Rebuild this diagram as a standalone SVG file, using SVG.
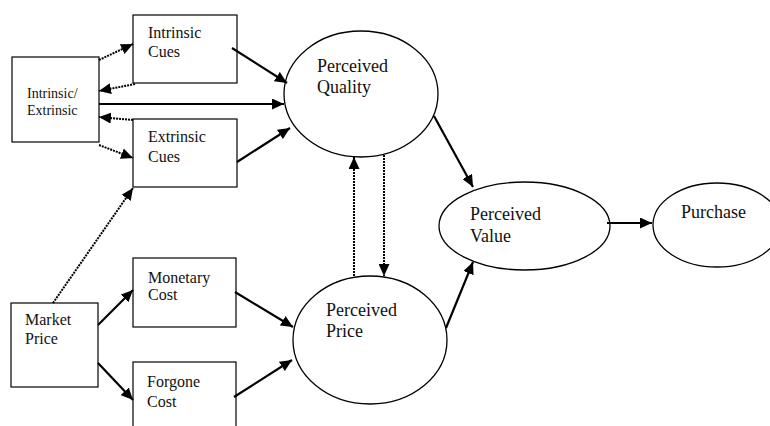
<svg xmlns="http://www.w3.org/2000/svg" width="770" height="426" viewBox="0 0 770 426">
<defs>
<marker id="ah" markerUnits="userSpaceOnUse" markerWidth="13" markerHeight="11" refX="12" refY="5.5" orient="auto">
<path d="M0,0 L12,5.5 L0,11 z" fill="#000"/>
</marker>
<style>
.box{fill:#fff;stroke:#000;stroke-width:1.2}
.ell{fill:#fff;stroke:#000;stroke-width:1.3}
.t{font-family:"Liberation Serif","Times New Roman",serif;font-size:16px;fill:#111}
.ts{font-size:14px}
.tl{font-size:18px}
.s{stroke:#000;stroke-width:2.2;fill:none;marker-end:url(#ah)}
.d{stroke:#000;stroke-width:2;stroke-dasharray:2,1;fill:none;marker-end:url(#ah)}
</style>
</defs>
<rect width="770" height="426" fill="#fff"/>
<g id="ie"><rect class="box" x="12" y="57" width="87" height="85"/><text class="t ts" x="27" y="98">Intrinsic/</text><text class="t ts" x="27" y="115">Extrinsic</text></g>
<g id="ic"><rect class="box" x="133" y="15" width="104" height="68"/><text class="t" x="148" y="38">Intrinsic</text><text class="t" x="148" y="57">Cues</text></g>
<g id="ec"><rect class="box" x="133" y="119" width="104" height="68"/><text class="t" x="148" y="142">Extrinsic</text><text class="t" x="148" y="162">Cues</text></g>
<g id="mp"><rect class="box" x="11" y="303" width="87" height="84"/><text class="t" x="25" y="325">Market</text><text class="t" x="25" y="344">Price</text></g>
<g id="mc"><rect class="box" x="133" y="258" width="103" height="69"/><text class="t" x="148" y="283">Monetary</text><text class="t" x="148" y="300">Cost</text></g>
<g id="fc"><rect class="box" x="133" y="362" width="103" height="70"/><text class="t" x="147" y="387">Forgone</text><text class="t" x="147" y="407">Cost</text></g>
<g id="pq"><ellipse class="ell" cx="361" cy="94" rx="77" ry="63"/><text class="t tl" x="317" y="72">Perceived</text><text class="t tl" x="317" y="93">Quality</text></g>
<g id="pp"><ellipse class="ell" cx="370" cy="340" rx="77" ry="64"/><text class="t tl" x="326" y="316">Perceived</text><text class="t tl" x="326" y="337">Price</text></g>
<g id="pv"><ellipse class="ell" cx="524.5" cy="226" rx="85.5" ry="44"/><text class="t tl" x="470" y="220">Perceived</text><text class="t tl" x="470" y="242">Value</text></g>
<g id="pu"><ellipse class="ell" cx="717" cy="225" rx="64" ry="42"/><text class="t tl" x="681" y="218">Purchase</text></g>
<g id="connectors">
<path class="d" d="M99,60 L133,44"/>
<path class="d" d="M135,84 L99,91"/>
<path class="s" d="M99,104 L284,104"/>
<path class="d" d="M133,120 L99,117"/>
<path class="d" d="M99,145 L133,158"/>
<path class="s" d="M232,48 L287,83"/>
<path class="s" d="M237,162 L290,128"/>
<path class="d" d="M53,303 L133,188"/>
<path class="s" d="M98,325 L133,290"/>
<path class="s" d="M98,363 L133,400"/>
<path class="s" d="M235,292 L293,327"/>
<path class="s" d="M234,397 L292,360"/>
<path class="d" d="M354,276 L354,157"/>
<path class="d" d="M384,155 L384,276"/>
<path class="s" d="M434,116 L473,187"/>
<path class="s" d="M446,328 L473,262"/>
<path class="s" d="M607,223 L652,223"/>
</g>
</svg>
